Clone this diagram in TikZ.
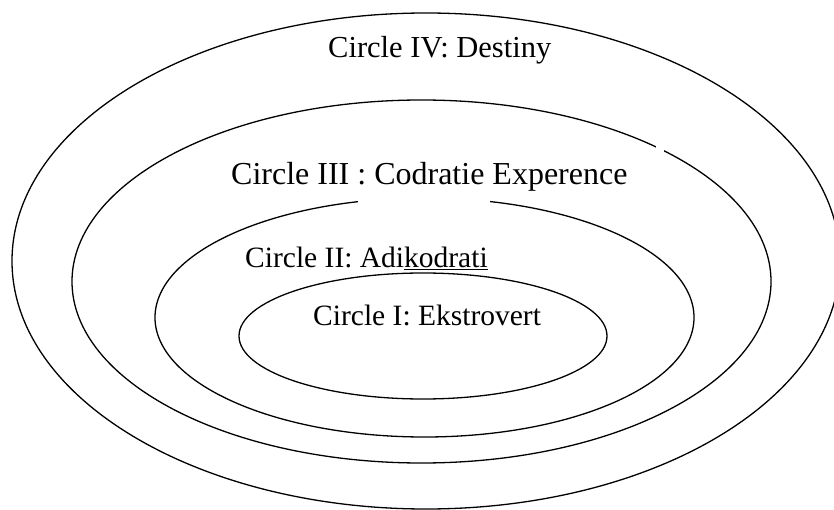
\documentclass[tikz,border=0pt]{standalone}
\usepackage{fontspec}
\setmainfont{Liberation Serif}
\begin{document}
\begin{tikzpicture}[x=1pt,y=-1pt,
  ring/.style={draw=black,line width=1.3pt},
  gapmask/.style={fill=white,draw=none},
  lbl/.style={anchor=base west,inner sep=0pt,text=black}]
\clip (0,0) rectangle (834,510);
\fill[white] (0,0) rectangle (834,510);
% ellipses
\coordinate (c4) at (426,261);
\coordinate (c3) at (421.5,281.5);
\coordinate (c2) at (424.5,317.5);
\coordinate (c1) at (423,336);
\draw[ring] (c4) ellipse [x radius=414pt, y radius=248pt];
\draw[ring] (c3) ellipse [x radius=349.5pt, y radius=181.5pt];
\draw[ring] (c2) ellipse [x radius=269.5pt, y radius=119.5pt];
\draw[ring] (c1) ellipse [x radius=184pt, y radius=63pt];
% gaps left by the label boxes
\fill[gapmask] (358,190) rectangle (490,214);
\fill[gapmask] (656,138) rectangle (664,158);
% labels
\node[lbl,font=\fontsize{30.5}{36}\selectfont] (t4) at (328,58) {Circle IV: Destiny};
\node[lbl,font=\fontsize{32}{38}\selectfont] (t3) at (231,185) {Circle III : Codratie Experence};
\node[lbl,font=\fontsize{29.5}{35}\selectfont] (t2) at (245,268) {Circle II: Adi\underline{kodrati}};
\node[lbl,font=\fontsize{29.5}{35}\selectfont] (t1) at (313,325) {Circle I: Ekstrovert};
\end{tikzpicture}
\end{document}
